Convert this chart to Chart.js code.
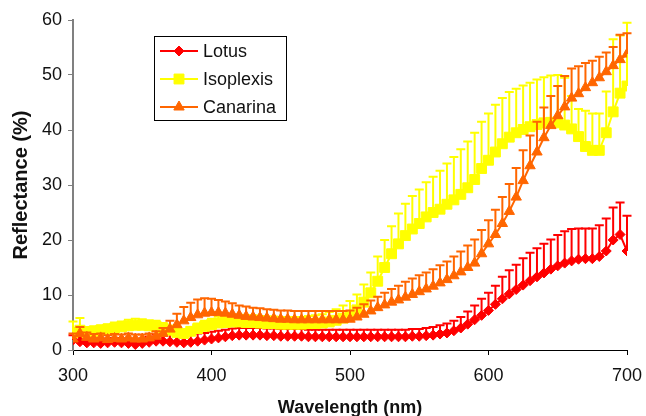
<!DOCTYPE html>
<html>
<head>
<meta charset="utf-8">
<title>Reflectance</title>
<script src="https://cdn.jsdelivr.net/npm/chart.js@4.4.0/dist/chart.umd.min.js"></script>
<style>
    html, body { margin: 0; padding: 0; background: #fff; }
    #wrap { width: 646px; height: 416px; }
</style>
</head>
<body>
<div id="wrap"><canvas id="reflectanceChart" width="646" height="416"></canvas></div>
<script>
const wavelengths = [
    300, 305, 310, 315, 320, 325, 330, 335, 340, 345,
    350, 355, 360, 365, 370, 375, 380, 385, 390, 395,
    400, 405, 410, 415, 420, 425, 430, 435, 440, 445,
    450, 455, 460, 465, 470, 475, 480, 485, 490, 495,
    500, 505, 510, 515, 520, 525, 530, 535, 540, 545,
    550, 555, 560, 565, 570, 575, 580, 585, 590, 595,
    600, 605, 610, 615, 620, 625, 630, 635, 640, 645,
    650, 655, 660, 665, 670, 675, 680, 685, 690, 695,
    700
];

const lotus = [
    1.8, 1.5, 1.3, 1.3, 1.2, 1.3, 1.4, 1.3, 1.2, 1.0,
    1.2, 1.4, 1.6, 1.6, 1.5, 1.4, 1.3, 1.4, 1.6, 1.8,
    2.0, 2.2, 2.4, 2.6, 2.7, 2.7, 2.7, 2.7, 2.6, 2.6,
    2.5, 2.5, 2.5, 2.5, 2.4, 2.4, 2.4, 2.4, 2.4, 2.4,
    2.4, 2.4, 2.4, 2.4, 2.4, 2.4, 2.4, 2.4, 2.4, 2.5,
    2.5, 2.6, 2.7, 2.9, 3.1, 3.5, 4.0, 4.7, 5.5, 6.3,
    7.2, 8.3, 9.3, 10.2, 11.0, 11.8, 12.6, 13.3, 14.0, 14.7,
    15.3, 15.8, 16.2, 16.5, 16.6, 16.6, 17.0, 18.0, 20.0, 21.0,
    18.0
];
const lotusErr = [
    0.9, 0.8, 0.8, 0.8, 0.8, 0.8, 0.8, 0.8, 0.8, 0.8,
    0.9, 1.0, 1.2, 1.4, 1.5, 1.6, 1.6, 1.5, 1.4, 1.3,
    1.3, 1.3, 1.3, 1.3, 1.3, 1.3, 1.3, 1.3, 1.3, 1.3,
    1.3, 1.3, 1.3, 1.3, 1.3, 1.3, 1.3, 1.3, 1.3, 1.3,
    1.3, 1.3, 1.3, 1.3, 1.3, 1.3, 1.3, 1.3, 1.3, 1.3,
    1.3, 1.4, 1.5, 1.6, 1.7, 1.8, 2.0, 2.3, 2.6, 3.0,
    3.2, 3.4, 4.0, 4.3, 4.5, 4.9, 5.1, 5.2, 5.3, 5.4,
    5.6, 5.8, 5.8, 5.6, 5.5, 5.5, 5.7, 5.9, 5.9, 5.8,
    6.4
];

const isoplexis = [
    3.2, 3.6, 3.2, 3.4, 3.6, 3.8, 4.0, 4.2, 4.4, 4.5,
    4.5, 4.4, 4.3, 4.0, 3.6, 3.2, 3.0, 3.4, 3.9, 4.3,
    4.6, 4.9, 5.0, 5.1, 5.1, 5.0, 5.0, 4.9, 4.8, 4.8,
    4.7, 4.7, 4.7, 4.7, 4.8, 4.8, 4.9, 5.1, 5.4, 5.8,
    6.3, 7.3, 8.7, 10.4, 12.5, 15.0, 17.5, 19.3, 20.8, 22.0,
    23.0, 24.2, 25.0, 25.6, 26.5, 27.3, 28.3, 29.5, 31.0, 33.0,
    34.5, 36.0, 37.5, 38.7, 39.5, 40.1, 40.6, 41.0, 41.3, 41.4,
    41.3, 40.9, 40.2, 38.8, 37.0, 36.3, 36.3, 39.5, 43.3, 46.7,
    48.0
];
const isoplexisErr = [
    2.0, 2.2, 1.0, 0.9, 0.9, 0.9, 1.0, 1.0, 1.1, 1.2,
    1.1, 1.0, 1.0, 0.9, 0.8, 0.7, 0.7, 0.8, 0.9, 1.0,
    1.1, 1.2, 1.2, 1.3, 1.3, 1.3, 1.3, 1.3, 1.3, 1.3,
    1.3, 1.3, 1.3, 1.3, 1.4, 1.5, 1.6, 1.8, 2.0, 2.3,
    2.6, 2.8, 3.2, 3.7, 4.5, 5.0, 5.0, 5.5, 5.8, 6.0,
    6.2, 6.3, 6.5, 7.0, 7.4, 7.8, 8.2, 8.4, 8.5, 8.5,
    8.5, 8.6, 8.3, 8.2, 8.0, 8.0, 8.0, 8.2, 8.3, 8.5,
    8.7, 8.6, 6.0, 5.0, 6.5, 6.7, 6.7, 7.5, 13.2, 10.5,
    11.5
];

const canarina = [
    2.0, 3.0, 2.3, 2.0, 2.2, 1.9, 2.1, 2.0, 2.2, 2.0,
    2.0, 2.2, 2.5, 3.0, 3.8, 4.6, 5.3, 5.9, 6.4, 6.7,
    6.8, 6.8, 6.7, 6.5, 6.3, 6.1, 6.0, 5.9, 5.8, 5.7,
    5.6, 5.6, 5.5, 5.5, 5.5, 5.5, 5.5, 5.5, 5.5, 5.5,
    5.6, 6.0, 6.5, 7.1, 7.7, 8.2, 8.7, 9.1, 9.6, 10.1,
    10.6, 11.1, 11.6, 12.2, 12.8, 13.5, 14.2, 15.0, 15.8, 17.5,
    19.3, 21.0, 23.0, 25.2, 27.8, 30.8, 33.5, 36.0, 38.6, 40.8,
    42.6, 44.2, 45.8, 46.6, 47.7, 48.6, 49.5, 50.6, 51.7, 52.8,
    53.8
];
const canarinaErr = [
    1.0, 1.2, 0.9, 0.9, 0.8, 0.8, 0.8, 0.8, 0.8, 0.8,
    0.8, 0.8, 0.9, 1.0, 1.5, 2.0, 2.5, 2.7, 2.8, 2.7,
    2.5, 2.3, 2.1, 2.0, 1.8, 1.8, 1.7, 1.7, 1.6, 1.6,
    1.6, 1.6, 1.6, 1.6, 1.6, 1.6, 1.6, 1.6, 1.6, 1.6,
    1.6, 1.7, 1.8, 1.9, 2.0, 2.2, 2.4, 2.6, 2.8, 2.9,
    3.0, 3.0, 3.1, 3.2, 3.3, 3.5, 3.7, 4.0, 4.3, 4.3,
    4.3, 4.5, 4.8, 5.0, 5.3, 5.5, 5.5, 5.5, 5.5, 5.4,
    5.4, 5.6, 5.4, 5.0, 4.5, 4.0, 3.8, 3.5, 3.4, 4.5,
    3.8
];

const yTicks = [0, 10, 20, 30, 40, 50, 60];
const xTicks = [300, 400, 500, 600, 700];

const FONT = '"Liberation Sans", Arial, Helvetica, sans-serif';

function toPoints(values) {
    return values.map((v, i) => ({ x: wavelengths[i], y: v }));
}

// upper error bars, drawn just before each dataset so markers sit on top
const errorBarPlugin = {
    id: 'errorBars',
    beforeDatasetDraw(chart, args) {
        const ds = chart.data.datasets[args.index];
        if (!ds.errorBars) return;
        const yScale = chart.scales.y;
        const ctx = chart.ctx;
        ctx.save();
        ctx.strokeStyle = ds.borderColor;
        ctx.lineWidth = 2;
        args.meta.data.forEach((pt, i) => {
            const top = yScale.getPixelForValue(ds.data[i].y + ds.errorBars[i]);
            ctx.beginPath();
            ctx.moveTo(pt.x, pt.y);
            ctx.lineTo(pt.x, top);
            ctx.moveTo(pt.x - 4.5, top);
            ctx.lineTo(pt.x + 4.5, top);
            ctx.stroke();
        });
        ctx.restore();
    }
};

// boxed legend inside the plot, like the original
const legendBoxPlugin = {
    id: 'legendBox',
    afterDraw(chart) {
        const { ctx, chartArea } = chart;
        const x = chartArea.left + 81;
        const y = chartArea.top + 16;
        const w = 132, h = 84;
        ctx.save();
        ctx.fillStyle = '#fff';
        ctx.fillRect(x, y, w, h);
        ctx.strokeStyle = '#000';
        ctx.lineWidth = 1;
        ctx.strokeRect(x + 0.5, y + 0.5, w, h);
        chart.data.datasets.forEach((ds, i) => {
            const cy = y + 15 + i * 28;
            ctx.strokeStyle = ds.borderColor;
            ctx.lineWidth = 2;
            ctx.beginPath();
            ctx.moveTo(x + 6, cy);
            ctx.lineTo(x + 44, cy);
            ctx.stroke();
            ctx.fillStyle = ds.pointBackgroundColor;
            ctx.strokeStyle = ds.borderColor;
            ctx.lineWidth = 1;
            Chart.helpers.drawPoint(ctx, {
                pointStyle: ds.pointStyle,
                radius: ds.pointRadius,
                borderWidth: 1,
                rotation: 0
            }, x + 25, cy);
            ctx.fillStyle = '#111';
            ctx.font = '18px ' + FONT;
            ctx.textAlign = 'left';
            ctx.textBaseline = 'middle';
            ctx.fillText(ds.label, x + 49, cy + 1);
        });
        ctx.restore();
    }
};

function makeDataset(label, values, errors, color, style, radius, order) {
    return {
        label,
        data: toPoints(values),
        errorBars: errors,
        borderColor: color,
        backgroundColor: color,
        pointBackgroundColor: color,
        pointBorderColor: color,
        pointStyle: style,
        pointRadius: radius,
        pointBorderWidth: 1,
        borderWidth: 2,
        tension: 0,
        order
    };
}

function initChart() {
    const ctx = document.getElementById('reflectanceChart').getContext('2d');

    return new Chart(ctx, {
        type: 'line',
        data: {
            datasets: [
                makeDataset('Lotus', lotus, lotusErr, '#ff0000', 'rectRot', 5, 3),
                makeDataset('Isoplexis', isoplexis, isoplexisErr, '#ffff00', 'rect', 7, 2),
                makeDataset('Canarina', canarina, canarinaErr, '#ff6600', 'triangle', 6, 1)
            ]
        },
        options: {
            responsive: false,
            animation: false,
            events: [],
            layout: { padding: { top: 20, right: 19, left: 0, bottom: 0 } },
            plugins: {
                legend: { display: false },
                tooltip: { enabled: false }
            },
            scales: {
                x: {
                    type: 'linear',
                    min: xTicks[0],
                    max: xTicks[xTicks.length - 1],
                    afterBuildTicks(scale) { scale.ticks = xTicks.map(v => ({ value: v })); },
                    ticks: {
                        color: '#111',
                        font: { size: 18, family: FONT },
                        padding: 10,
                        maxRotation: 0
                    },
                    grid: { drawOnChartArea: false, color: '#000', tickLength: 5, tickWidth: 1 },
                    border: { color: '#000', width: 1 },
                    title: {
                        display: true,
                        text: 'Wavelength (nm)',
                        color: '#111',
                        font: { size: 18, weight: 'bold', family: FONT, lineHeight: 1 },
                        padding: { top: 0, bottom: -1 }
                    },
                    afterFit(scale) {
                        scale.height = 66;
                        scale.paddingRight = 4;
                    }
                },
                y: {
                    type: 'linear',
                    min: yTicks[0],
                    max: yTicks[yTicks.length - 1],
                    afterBuildTicks(scale) { scale.ticks = yTicks.map(v => ({ value: v })); },
                    ticks: {
                        color: '#111',
                        font: { size: 18, family: FONT },
                        padding: 6
                    },
                    grid: { drawOnChartArea: false, color: '#808080', tickLength: 5, tickWidth: 1 },
                    border: { color: '#808080', width: 2 },
                    title: {
                        display: true,
                        text: 'Reflectance (%)',
                        color: '#111',
                        font: { size: 20, weight: 'bold', family: FONT, lineHeight: 1 },
                        padding: { top: 11, bottom: 0 }
                    },
                    afterFit(scale) { scale.width = 73; }
                }
            }
        },
        plugins: [errorBarPlugin, legendBoxPlugin]
    });
}

document.addEventListener('DOMContentLoaded', initChart);
</script>
</body>
</html>
